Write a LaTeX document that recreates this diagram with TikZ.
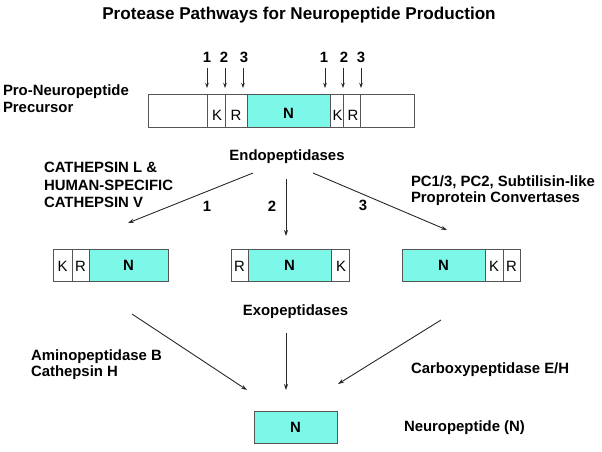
\documentclass[tikz,border=0pt]{standalone}
\usepackage{fontspec}
\setmainfont{Liberation Sans}
\usetikzlibrary{arrows.meta}
\definecolor{pepcyan}{RGB}{125,248,232}
\definecolor{boxline}{RGB}{85,85,85}
\definecolor{arrline}{RGB}{40,40,40}
\tikzset{
  txt/.style={inner sep=0pt, outer sep=0pt, font=\fontsize{14.9}{17.7}\selectfont\bfseries},
  ttl/.style={inner sep=0pt, outer sep=0pt, font=\fontsize{17.1}{20}\selectfont\bfseries},
  seg/.style={draw=boxline, line width=1pt, inner sep=0pt, outer sep=0pt, fill=white,
              font=\fontsize{14.9}{17.7}\selectfont},
  pep/.style={seg, fill=pepcyan, font=\fontsize{14.9}{17.7}\selectfont\bfseries},
  arr/.style={draw=arrline, line width=0.9pt, -{Stealth[length=6pt,width=4pt]}},
  cut/.style={draw=arrline, line width=0.9pt, -{Stealth[length=5pt,width=3.5pt]}},
}
\newcommand{\lowr}[2]{\raisebox{-#1}[\height][0pt]{#2}}
\begin{document}
\begin{tikzpicture}[x=1pt,y=-1pt]
\useasboundingbox (0,0) rectangle (602,451);

% title
\node[ttl, anchor=base] (title) at (299,19) {Protease Pathways for Neuropeptide Production};

% precursor label
\node[txt, anchor=base west] (pre1) at (3,95) {Pro-Neuropeptide};
\node[txt, anchor=base west] (pre2) at (3,112) {Precursor};

% precursor bar (y 94..127)
\node[seg, minimum width=59pt, minimum height=33pt] (a0) at (177.5,110.5) {};
\node[seg, minimum width=18pt, minimum height=33pt] (a1) at (216,110.5) {\lowr{5pt}{\hspace{2pt}K}};
\node[seg, minimum width=22pt, minimum height=33pt] (a2) at (236,110.5) {\lowr{5pt}{R}};
\node[pep, minimum width=83pt, minimum height=33pt] (aN) at (288.5,110.5) {\lowr{2.5pt}{N}};
\node[seg, minimum width=13pt, minimum height=33pt] (a3) at (336.5,110.5) {\lowr{5pt}{\hspace{2pt}K}};
\node[seg, minimum width=17pt, minimum height=33pt] (a4) at (351.5,110.5) {\lowr{5pt}{\hspace{3pt}R}};
\node[seg, minimum width=54pt, minimum height=33pt] (a5) at (387,110.5) {};

% cleavage site numbers and arrows
\node[txt, anchor=base] (n1a) at (207,62) {1};
\node[txt, anchor=base] (n2a) at (224,62) {2};
\node[txt, anchor=base] (n3a) at (244,62) {3};
\node[txt, anchor=base] (n1b) at (324,62) {1};
\node[txt, anchor=base] (n2b) at (344,62) {2};
\node[txt, anchor=base] (n3b) at (361,62) {3};
\coordinate (s1a) at (207,68); \coordinate (e1a) at (207,88);
\coordinate (s2a) at (225,68); \coordinate (e2a) at (225,88);
\coordinate (s3a) at (243,68); \coordinate (e3a) at (243,88);
\coordinate (s1b) at (325,68); \coordinate (e1b) at (325,88);
\coordinate (s2b) at (343,68); \coordinate (e2b) at (343,88);
\coordinate (s3b) at (361,68); \coordinate (e3b) at (361,88);
\foreach \c in {1a,2a,3a,1b,2b,3b} \draw[cut] (s\c) -- (e\c);

% endopeptidases
\node[txt, anchor=base] (endo) at (287,160) {Endopeptidases};
\node[txt, anchor=base west] (cat1) at (44,172.5) {CATHEPSIN L \&};
\node[txt, anchor=base west] (cat2) at (44,190) {HUMAN-SPECIFIC};
\node[txt, anchor=base west] (cat3) at (44,207.5) {CATHEPSIN V};
\node[txt, anchor=base west] (pc1) at (411,186) {PC1/3, PC2, Subtilisin-like};
\node[txt, anchor=base west] (pc2) at (411,202.5) {Proprotein Convertases};
\node[txt, anchor=base] (p1) at (207,211) {1};
\node[txt, anchor=base] (p2) at (272,211) {2};
\node[txt, anchor=base] (p3) at (363,210) {3};

\coordinate (r1s) at (253,173); \coordinate (r1e) at (128,223);
\coordinate (r2s) at (286,179); \coordinate (r2e) at (286,236);
\coordinate (r3s) at (313,173); \coordinate (r3e) at (447,230);
\draw[arr] (r1s) -- (r1e);
\draw[arr] (r2s) -- (r2e);
\draw[arr] (r3s) -- (r3e);

% intermediate products (y 249..281)
\node[seg, minimum width=19pt, minimum height=32pt] (b1) at (62.5,265) {\lowr{1.5pt}{K}};
\node[seg, minimum width=17pt, minimum height=32pt] (b2) at (80.5,265) {\lowr{1.5pt}{R}};
\node[pep, minimum width=79pt, minimum height=32pt] (bN) at (128.5,265) {N};

\node[seg, minimum width=17pt, minimum height=32pt] (c1) at (239.5,265) {\lowr{1.5pt}{R}};
\node[pep, minimum width=83pt, minimum height=32pt] (cN) at (289.5,265) {N};
\node[seg, minimum width=18pt, minimum height=32pt] (c2) at (340,265) {\lowr{1.5pt}{\hspace{2pt}K}};

\node[pep, minimum width=83pt, minimum height=32pt] (dN) at (443.5,265) {N};
\node[seg, minimum width=18pt, minimum height=32pt] (d1) at (494,265) {\lowr{1.5pt}{K}};
\node[seg, minimum width=17pt, minimum height=32pt] (d2) at (511.5,265) {\lowr{1.5pt}{R}};

% exopeptidases
\node[txt, anchor=base] (exo) at (295.5,315) {Exopeptidases};
\node[txt, anchor=base west] (am1) at (31,360) {Aminopeptidase B};
\node[txt, anchor=base west] (am2) at (31,376) {Cathepsin H};
\node[txt, anchor=base west] (cbx) at (411,373) {Carboxypeptidase E/H};

\coordinate (x1s) at (132,314); \coordinate (x1e) at (247,390);
\coordinate (x2s) at (286,333); \coordinate (x2e) at (286,390);
\coordinate (x3s) at (441,320); \coordinate (x3e) at (338,384);
\draw[arr] (x1s) -- (x1e);
\draw[arr] (x2s) -- (x2e);
\draw[arr] (x3s) -- (x3e);

% final neuropeptide
\node[pep, minimum width=83pt, minimum height=32pt] (fN) at (295.5,427) {N};
\node[txt, anchor=base west] (neu) at (404,431) {Neuropeptide (N)};
\end{tikzpicture}
\end{document}
